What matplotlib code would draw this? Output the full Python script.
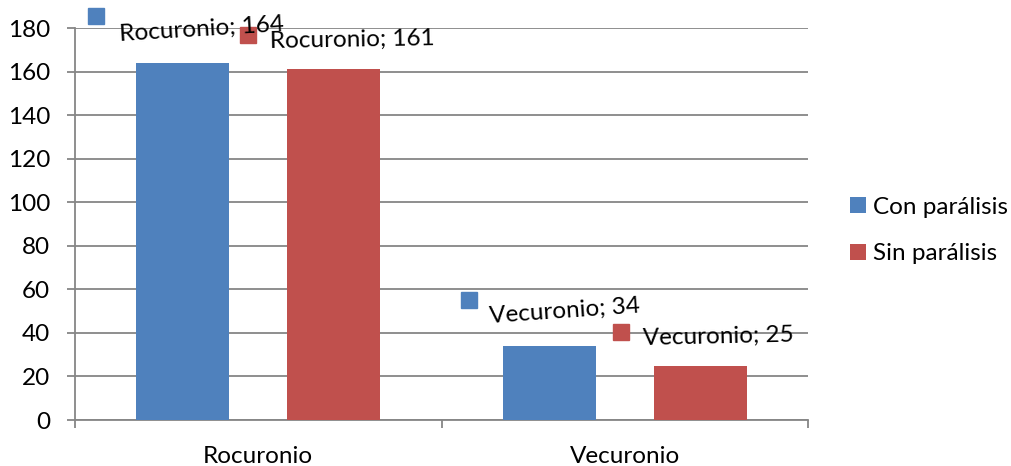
import numpy as np
import matplotlib
matplotlib.use("Agg")
import matplotlib.pyplot as plt
from matplotlib.patches import Patch

plt.rcParams["font.family"] = ["Lato", "DejaVu Sans"]

# Data
categories = ["Rocuronio", "Vecuronio"]
series_names = ["Con parálisis", "Sin parálisis"]
con_paralisis = [164, 34]
sin_paralisis = [161, 25]
colors = ["#4F81BD", "#C0504D"]

# Where the data labels were dragged to: (marker x, marker y, text x, text y, angle)
label_spots = {
    (0, 0): (-0.444, 185.7, -0.377, 174.0, 3.5),
    (0, 1): (-0.027, 177.0, 0.032, 170.8, 1.0),
    (1, 0): (0.574, 54.9, 0.632, 44.5, 4.0),
    (1, 1): (0.991, 40.6, 1.050, 34.4, 1.3),
}

FS = 17.5

fig = plt.figure(figsize=(10.11, 4.66), dpi=100)
ax = fig.add_axes([0.0742, 0.0987, 0.725, 0.841])

x = np.arange(len(categories))
width = 0.254
offset = 0.206
grid_col = "#868686"

for s, (vals, col) in enumerate(zip([con_paralisis, sin_paralisis], colors)):
    xs = x + (offset if s else -offset)
    ax.bar(xs, vals, width, color=col, zorder=3)
    for c, v in enumerate(vals):
        mx, my, tx, ty, ang = label_spots[(c, s)]
        ax.plot(mx, my, marker="s", ms=11, color=col, ls="none",
                clip_on=False, zorder=5)
        ax.text(tx, ty, f"{categories[c]}; {v}", fontsize=FS, rotation=ang,
                rotation_mode="anchor", ha="left", va="baseline",
                color="black", zorder=6, clip_on=False)

ax.set_xlim(-0.5, 1.5)
ax.set_ylim(0, 180)
ax.set_yticks(np.arange(0, 181, 20))
ax.set_xticks(x)
ax.set_xticklabels(categories)
ax.set_xticks([-0.5, 0.5, 1.5], minor=True)

ax.yaxis.grid(True, color=grid_col, lw=1.3, zorder=0)
for sp in ["top", "right"]:
    ax.spines[sp].set_visible(False)
for sp in ["left", "bottom"]:
    ax.spines[sp].set_color(grid_col)
    ax.spines[sp].set_linewidth(1.3)

ax.tick_params(axis="y", length=6, width=1.3, color=grid_col, pad=12,
               labelsize=FS)
ax.tick_params(axis="x", which="major", length=0, pad=19, labelsize=FS)
ax.tick_params(axis="x", which="minor", length=6, width=1.3, color=grid_col)

handles = [Patch(facecolor=c, edgecolor="none") for c in colors]
fig.legend(handles, series_names, loc="center left",
           bbox_to_anchor=(0.819, 0.505), frameon=False, fontsize=FS,
           handlelength=0.65, handleheight=0.65, handletextpad=0.3,
           labelspacing=1.05)

fig.savefig("out.png", dpi=100)
